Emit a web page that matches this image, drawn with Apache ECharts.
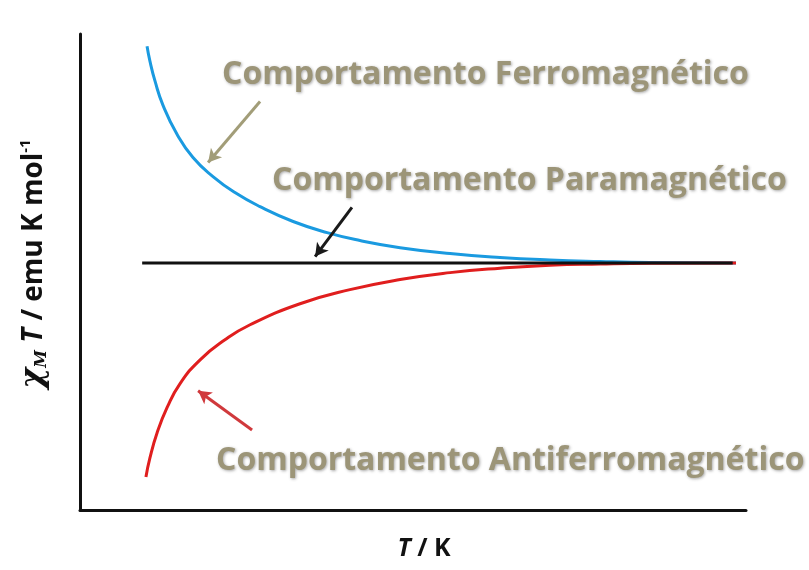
<!DOCTYPE html>
<html>
<head>
<meta charset="utf-8">
<script src="https://cdn.jsdelivr.net/npm/echarts@6/dist/echarts.min.js"></script>
<style>
  html, body { margin: 0; padding: 0; background: #fff; }
  #chart { width: 809px; height: 570px; }
</style>
</head>
<body>
<div id="chart"></div>
<script>
// Schematic χM·T versus T curves for the three magnetic behaviours
const ferroT   = [30.2, 31.5, 33.8, 37.4, 43.7, 50.9, 59.9, 69.8, 81.1, 96.0, 111.3, 126.1, 144.2, 166.7, 189.2, 211.7, 234.3, 256.8, 295.5];
const ferroChi = [1.877, 1.817, 1.736, 1.638, 1.521, 1.427, 1.350, 1.285, 1.228, 1.168, 1.123, 1.091, 1.062, 1.038, 1.022, 1.012, 1.006, 1.002, 1.000];

const antiT    = [29.7, 31.5, 34.7, 39.2, 45.0, 54.1, 65.3, 76.6, 99.1, 121.6, 144.2, 166.7, 189.2, 211.7, 234.3, 256.8, 295.5];
const antiChi  = [0.134, 0.211, 0.312, 0.414, 0.511, 0.608, 0.689, 0.750, 0.835, 0.892, 0.933, 0.961, 0.979, 0.991, 0.996, 0.999, 1.000];

const paraT    = [28.0, 294.0];
const paraChi  = [1.0, 1.0];

// Annotation arrows: [startT, startChi, endT, endChi]
const ferroArrow = [81.1, 1.654, 57.7, 1.407];
const paraArrow  = [122.5, 1.225, 105.9, 1.026];
const antiArrow  = [77.5, 0.324, 53.2, 0.483];

const labelFerro = 'Comportamento Ferromagnético';
const labelPara  = 'Comportamento Paramagnético';
const labelAnti  = 'Comportamento Antiferromagnético';

const zip = (xs, ys) => xs.map((x, i) => [x, ys[i]]);
const arrow = (a, color) => ({
  silent: true,
  animation: false,
  symbol: ['none', 'arrow'],
  symbolSize: [11, 13],
  label: { show: false },
  lineStyle: { color: color, width: 3, type: 'solid' },
  data: [[{ coord: [a[0], a[1]] }, { coord: [a[2], a[3]] }]]
});

const annoStyle = {
  fill: '#9c9578',
  font: 'bold 32px "Open Sans", sans-serif',
  textShadowColor: 'rgba(60,60,60,0.45)',
  textShadowBlur: 3,
  textShadowOffsetX: 1,
  textShadowOffsetY: 1
};

const chart = echarts.init(document.getElementById('chart'));
chart.setOption({
  animation: false,
  backgroundColor: '#ffffff',
  grid: { left: 80, top: 34, right: 63, bottom: 60 },
  xAxis: {
    type: 'value', min: 0, max: 300,
    axisLine: { show: true, lineStyle: { color: '#111', width: 3 } },
    axisTick: { show: false }, axisLabel: { show: false }, splitLine: { show: false },
    name: '{i|T} / K',
    nameLocation: 'middle', nameGap: 26,
    nameTextStyle: {
      fontFamily: '"Open Sans", sans-serif', fontWeight: 'bold', fontSize: 25, color: '#111',
      padding: [0, 0, 0, 22],
      rich: { i: { fontStyle: 'italic', fontWeight: 'bold', fontSize: 25, color: '#111', fontFamily: '"Open Sans", sans-serif' } }
    }
  },
  yAxis: {
    type: 'value', min: 0, max: 1.927,
    axisLine: { show: true, lineStyle: { color: '#111', width: 3 } },
    axisTick: { show: false }, axisLabel: { show: false }, splitLine: { show: false },
    name: '{chi|χ}{sub|M} {i|T} / emu K mol{sup|-1}',
    nameLocation: 'middle', nameRotate: 90, nameGap: 30,
    nameTextStyle: {
      fontFamily: '"Open Sans", sans-serif', fontWeight: 'bold', fontSize: 28, color: '#111',
      padding: [0, 0, 0, 16],
      rich: {
        chi: { fontStyle: 'italic', fontWeight: 'bold', fontSize: 32, color: '#111', fontFamily: '"DejaVu Serif", serif' },
        sub: { fontStyle: 'italic', fontWeight: 'bold', fontSize: 16, color: '#111', fontFamily: '"DejaVu Serif", serif', verticalAlign: 'bottom', padding: [10, 0, 0, 0] },
        i:   { fontStyle: 'italic', fontWeight: 'bold', fontSize: 28, color: '#111', fontFamily: '"Open Sans", sans-serif' },
        sup: { fontWeight: 'bold', fontSize: 15, color: '#111', fontFamily: '"Open Sans", sans-serif', verticalAlign: 'top', padding: [0, 0, 15, 0] }
      }
    }
  },
  series: [
    {
      name: 'Paramagnético', type: 'line', data: zip(paraT, paraChi),
      showSymbol: false, z: 3,
      lineStyle: { color: '#111111', width: 3 },
      markLine: arrow(paraArrow, '#1a1a1a')
    },
    {
      name: 'Ferromagnético', type: 'line', data: zip(ferroT, ferroChi),
      showSymbol: false, smooth: 0.5, z: 2,
      lineStyle: { color: '#1a9ae0', width: 3 },
      markLine: arrow(ferroArrow, '#a29d78')
    },
    {
      name: 'Antiferromagnético', type: 'line', data: zip(antiT, antiChi),
      showSymbol: false, smooth: 0.5, z: 2,
      lineStyle: { color: '#e01e1e', width: 3 },
      markLine: arrow(antiArrow, '#d0393c')
    }
  ],
  graphic: [
    { type: 'text', left: 222, top: 59, z: 10, style: Object.assign({ text: labelFerro }, annoStyle) },
    { type: 'text', left: 272, top: 165, z: 10, style: Object.assign({ text: labelPara }, annoStyle) },
    { type: 'text', left: 216, top: 445, z: 10, style: Object.assign({ text: labelAnti }, annoStyle) }
  ]
});
</script>
</body>
</html>
